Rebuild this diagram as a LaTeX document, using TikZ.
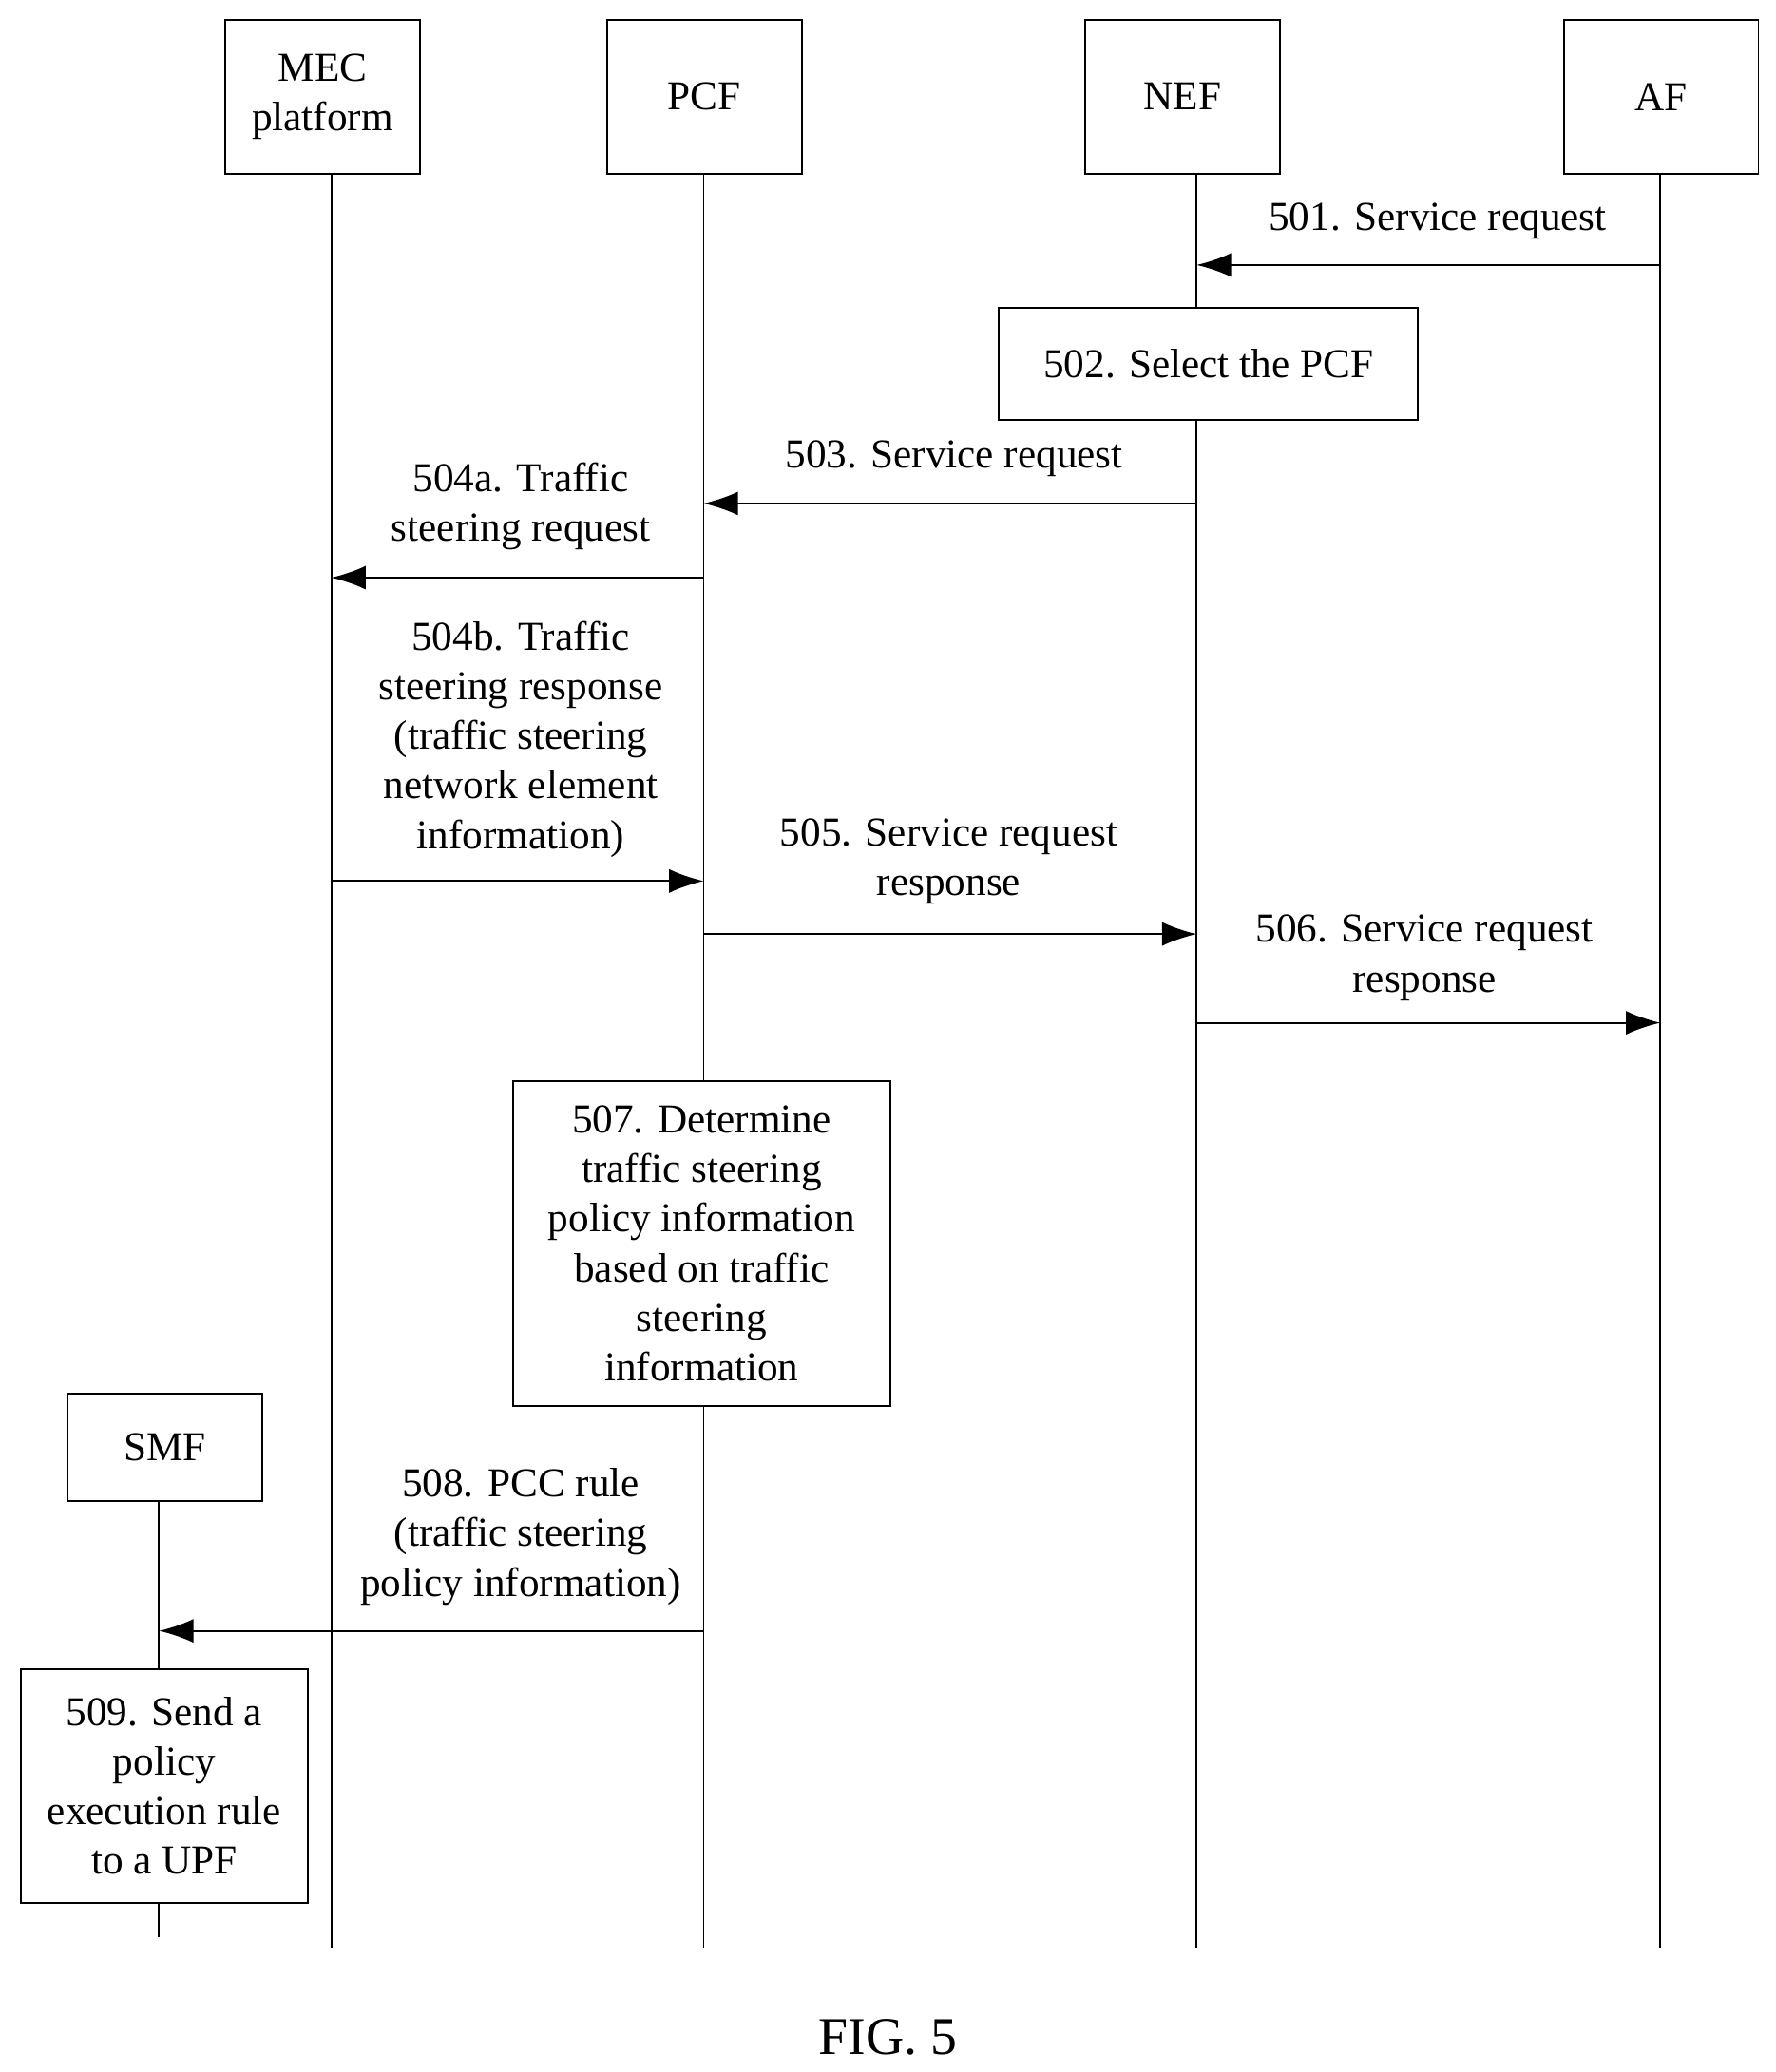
\documentclass[tikz,border=0pt]{standalone}
\usepackage{fontspec}
\setmainfont{Liberation Serif}
\usetikzlibrary{arrows.meta}
\begin{document}
\begin{tikzpicture}[x=0.5pt,y=-0.5pt,
  every node/.style={font=\fontsize{15.5pt}{18.7pt}\selectfont, align=center, inner sep=0pt},
  box/.style={draw, line width=0.7pt, fill=white},
  life/.style={line width=0.7pt},
  msg/.style={line width=0.7pt, -{Latex[length=13pt,width=9pt]}},
  lbl/.style={}]
\useasboundingbox (0,0) rectangle (1340,1564);
% lifelines
\coordinate (mecB) at (250,1470);
\coordinate (pcfB) at (531,1470);
\coordinate (nefB) at (903,1470);
\coordinate (afB) at (1253,1470);
\coordinate (smfB) at (120,1462);
\draw[life] (250,131) -- (mecB);
\draw[life] (531,131) -- (pcfB);
\draw[life] (903,131) -- (nefB);
\draw[life] (1253,131) -- (afB);
\draw[life] (120,1133) -- (smfB);
% headers
\node[box, minimum width=73.5pt, minimum height=58pt] (mec) at (243.5,73) {MEC\\platform};
\node[box, minimum width=73.5pt, minimum height=58pt] (pcf) at (531.5,73) {PCF};
\node[box, minimum width=73.5pt, minimum height=58pt] (nef) at (892.5,73) {NEF};
\node[box, minimum width=73.5pt, minimum height=58pt] (af) at (1253.5,73) {AF};
\node[box, minimum width=73.5pt, minimum height=40.5pt] (smf) at (124.5,1092.5) {SMF};
% process boxes
\node[box, minimum width=158pt, minimum height=42.5pt] (s502) at (912,274.5) {502. Select the PCF};
\node[box, minimum width=142.5pt, minimum height=122.5pt] (s507) at (529.5,938.5) {507. Determine\\traffic steering\\policy information\\based on traffic\\steering\\information};
\node[box, minimum width=108pt, minimum height=88pt] (s509) at (124,1348) {509. Send a\\policy\\execution rule\\to a UPF};
% messages
\coordinate (a1) at (1253,200); \coordinate (b1) at (903,200);
\draw[msg] (a1) -- (b1);
\node[lbl] (l501) at (1085,167) {501. Service request};
\coordinate (a3) at (903,380); \coordinate (b3) at (531,380);
\draw[msg] (a3) -- (b3);
\node[lbl] (l503) at (720,346) {503. Service request};
\coordinate (a4) at (531,436); \coordinate (b4) at (250,436);
\draw[msg] (a4) -- (b4);
\node[lbl] (l504a) at (393,382) {504a. Traffic\\steering request};
\coordinate (a4b) at (250,665); \coordinate (b4b) at (531,665);
\draw[msg] (a4b) -- (b4b);
\node[lbl] (l504b) at (393,558) {504b. Traffic\\steering response\\(traffic steering\\network element\\information)};
\coordinate (a5) at (531,705); \coordinate (b5) at (903,705);
\draw[msg] (a5) -- (b5);
\node[lbl] (l505) at (716,650) {505. Service request\\response};
\coordinate (a6) at (903,772); \coordinate (b6) at (1253,772);
\draw[msg] (a6) -- (b6);
\node[lbl] (l506) at (1075,723) {506. Service request\\response};
\coordinate (a8) at (531,1231); \coordinate (b8) at (120,1231);
\draw[msg] (a8) -- (b8);
\node[lbl] (l508) at (393,1160) {508. PCC rule\\(traffic steering\\policy information)};
\node[font=\fontsize{20pt}{24pt}\selectfont] (fig) at (670,1538) {FIG. 5};
\end{tikzpicture}
\end{document}
